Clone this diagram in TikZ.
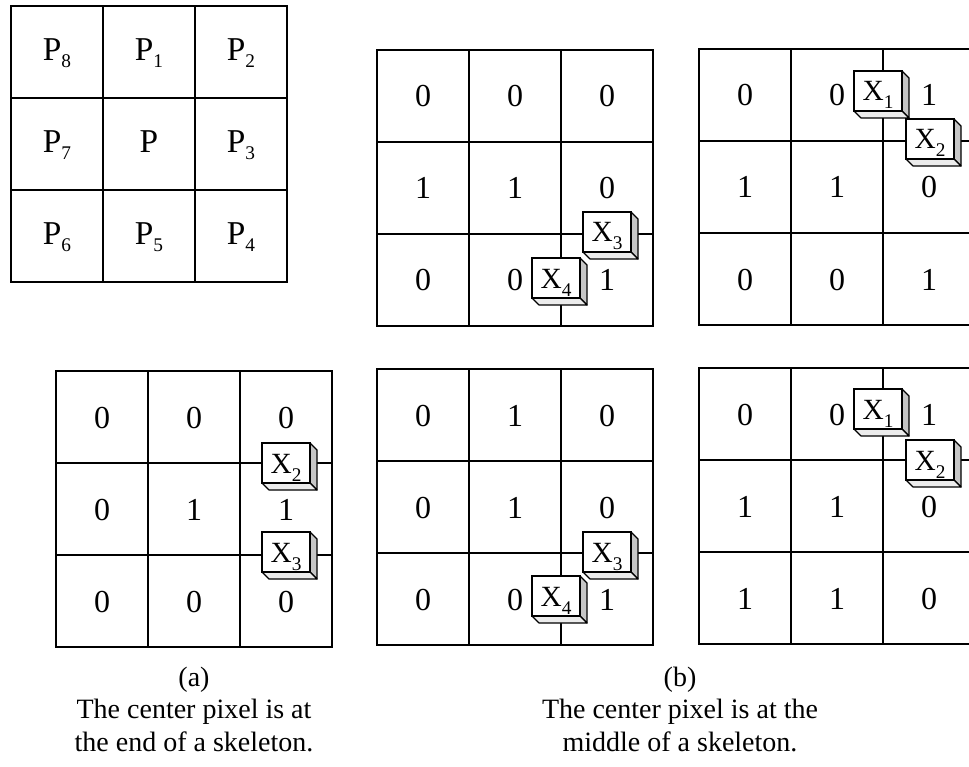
\documentclass[tikz,border=0pt]{standalone}
\usepackage{fontspec}
\setmainfont{Liberation Serif}
\newcommand\lowsub[2][5pt]{\raisebox{-#1}{\fontsize{14.5}{14.5}\selectfont #2}}
\tikzset{
  x=0.75pt, y=-0.75pt,
  gridline/.style={line width=1.1pt},
  val/.style={anchor=base, inner sep=0pt, font=\fontsize{24}{28}\selectfont},
  plab/.style={anchor=base, inner sep=0pt, font=\fontsize{25}{29}\selectfont},
  xfront/.style={draw, fill=white, line width=0.9pt, minimum width=36pt, minimum height=30pt, inner sep=0pt},
  xface/.style={draw, line width=0.9pt, line join=round},
  xlab/.style={anchor=base, inner sep=0pt, font=\fontsize{22}{26}\selectfont},
  captext/.style={anchor=base, inner sep=0pt, font=\fontsize{21}{25}\selectfont},
}
\newcommand\gridbox[2]{%
  \draw[gridline] (#1,#2) rectangle ++(276,276);
  \draw[gridline] (#1+92,#2) -- ++(0,276) (#1+184,#2) -- ++(0,276)
                  (#1,#2+92) -- ++(276,0) (#1,#2+184) -- ++(276,0);}
\newcommand\cellvals[4]{%
  \foreach \v [count=\k from 0] in {#4} {
    \pgfmathtruncatemacro\cc{mod(\k,3)}
    \pgfmathtruncatemacro\rr{\k/3}
    \node[val] (#1\k) at ({#2+46+92*\cc},{#3+57+92*\rr}) {\v};}}
\newcommand\xbox[4]{%
  \begin{scope}[shift={(#2,#3)}]
    \filldraw[xface, fill=gray!45] (24,-20) -- (31,-13) -- (31,27) -- (24,20) -- cycle;
    \filldraw[xface, fill=gray!15] (-24,20) -- (24,20) -- (31,27) -- (-17,27) -- cycle;
    \node[xfront] (#1) at (0,0) {};
    \node[xlab] (#1l) at (0,10) {X\lowsub[6pt]{#4}};
  \end{scope}}
\begin{document}
\begin{tikzpicture}
\useasboundingbox (0,0) rectangle (969,766);
\clip (0,0) rectangle (969,766);

% top-left: neighbourhood labels
\gridbox{11}{6}
\node[plab] (p8) at (57,61) {P\lowsub{8}};
\node[plab] (p1) at (149,61) {P\lowsub{1}};
\node[plab] (p2) at (241,61) {P\lowsub{2}};
\node[plab] (p7) at (57,153) {P\lowsub{7}};
\node[plab] (p)  at (149,153) {P};
\node[plab] (p3) at (241,153) {P\lowsub{3}};
\node[plab] (p6) at (57,245) {P\lowsub{6}};
\node[plab] (p5) at (149,245) {P\lowsub{5}};
\node[plab] (p4) at (241,245) {P\lowsub{4}};

% top-middle
\gridbox{377}{50}
\cellvals{tm}{377}{50}{0,0,0,1,1,0,0,0,1}
\xbox{tmx3}{607}{232}{3}
\xbox{tmx4}{556}{278}{4}

% top-right
\gridbox{699}{49}
\cellvals{tr}{699}{49}{0,0,1,1,1,0,0,0,1}
\xbox{trx1}{878}{91}{1}
\xbox{trx2}{930}{139}{2}

% bottom-left
\gridbox{56}{371}
\cellvals{bl}{56}{371}{0,0,0,0,1,1,0,0,0}
\xbox{blx2}{286}{463}{2}
\xbox{blx3}{286}{552}{3}

% bottom-middle
\gridbox{377}{369}
\cellvals{bm}{377}{369}{0,1,0,0,1,0,0,0,1}
\xbox{bmx3}{607}{552}{3}
\xbox{bmx4}{556}{596}{4}

% bottom-right
\gridbox{699}{368}
\cellvals{br}{699}{368}{0,0,1,1,1,0,1,1,0}
\xbox{brx1}{878}{409}{1}
\xbox{brx2}{930}{460}{2}

% captions
\node[captext] (capa1) at (194,686) {(a)};
\node[captext] (capa2) at (194,718) {The center pixel is at};
\node[captext] (capa3) at (194,751) {the end of a skeleton.};
\node[captext] (capb1) at (680,686) {(b)};
\node[captext] (capb2) at (680,718) {The center pixel is at the};
\node[captext] (capb3) at (680,751) {middle of a skeleton.};
\end{tikzpicture}
\end{document}
